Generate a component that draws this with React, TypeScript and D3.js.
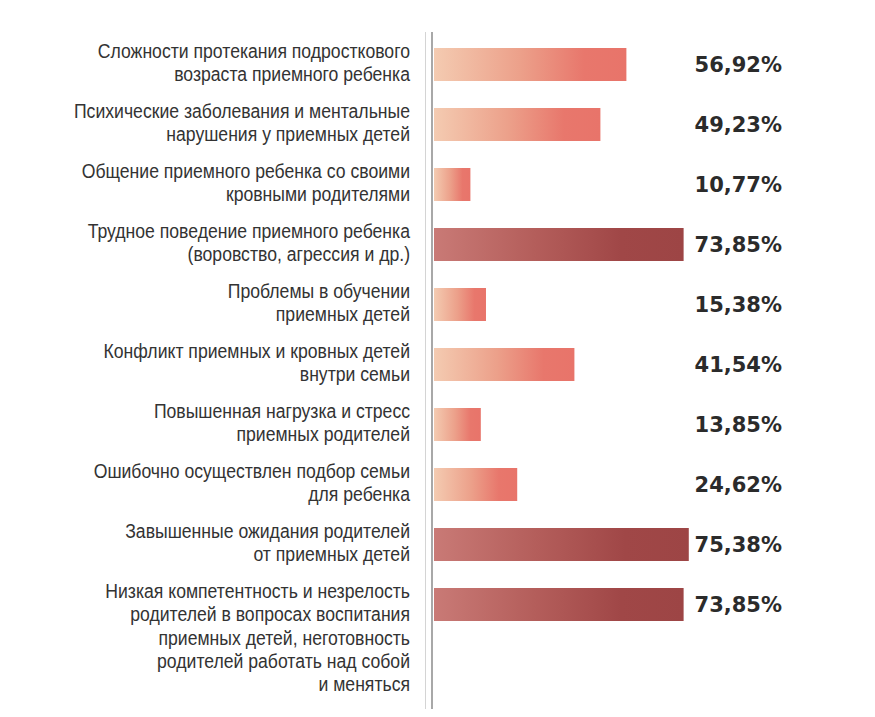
import * as d3 from "d3";

// categories (line breaks as in the original)
const categories = [
  "Сложности протекания подросткового\nвозраста приемного ребенка",
  "Психические заболевания и ментальные\nнарушения у приемных детей",
  "Общение приемного ребенка со своими\nкровными родителями",
  "Трудное поведение приемного ребенка\n(воровство, агрессия и др.)",
  "Проблемы в обучении\nприемных детей",
  "Конфликт приемных и кровных детей\nвнутри семьи",
  "Повышенная нагрузка и стресс\nприемных родителей",
  "Ошибочно осуществлен подбор семьи\nдля ребенка",
  "Завышенные ожидания родителей\nот приемных детей",
  "Низкая компетентность и незрелость\nродителей в вопросах воспитания\nприемных детей, неготовность\nродителей работать над собой\nи меняться",
];

// share of respondents, %
const values = [56.92, 49.23, 10.77, 73.85, 15.38, 41.54, 13.85, 24.62, 75.38, 73.85];

const width = 875;
const height = 717;
const highlightFrom = 70;
const labelRight = 410;
const narrow = 0.89; // fake "Arial Narrow"

const ruFormat = d3.formatLocale({
  decimal: ",",
  thousands: " ",
  grouping: [3],
  currency: ["", " ₽"],
});
const fmt = ruFormat.format(".2f");

const App = () => {
  const x = d3.scaleLinear().domain([0, 100]).range([434, 772]);
  const y = d3
    .scaleBand()
    .domain(categories)
    .range([34.5, 634.5])
    .paddingInner(0.45)
    .paddingOuter(0.225);

  const data = categories.map((c, i) => ({ category: c, value: values[i] }));

  return (
    <svg
      width={width}
      height={height}
      style={{ position: "absolute", left: 0, top: 0, background: "#fff" }}
    >
      <defs>
        <linearGradient id="gradLight" x1="0" x2="1" y1="0" y2="0">
          <stop offset="0" stopColor="#f4cbb1" />
          <stop offset="0.45" stopColor="#eca08a" />
          <stop offset="0.78" stopColor="#e8776c" />
          <stop offset="1" stopColor="#e8746a" />
        </linearGradient>
        <linearGradient id="gradDark" x1="0" x2="1" y1="0" y2="0">
          <stop offset="0" stopColor="#c97a76" />
          <stop offset="0.4" stopColor="#b45e5b" />
          <stop offset="0.75" stopColor="#a04747" />
          <stop offset="1" stopColor="#9d4545" />
        </linearGradient>
      </defs>

      {/* axis lines */}
      <line x1={425.5} x2={425.5} y1={32} y2={709} stroke="#d4d4d4" strokeWidth={1} />
      <line x1={432} x2={432} y1={32} y2={709} stroke="#a8a8a8" strokeWidth={2} />

      {data.map((d) => {
        const cy = (y(d.category) as number) + y.bandwidth() / 2;
        const lines = d.category.split("\n");
        return (
          <g key={d.category}>
            <rect
              x={x(0)}
              y={y(d.category)}
              width={x(d.value) - x(0)}
              height={y.bandwidth()}
              fill={d.value > highlightFrom ? "url(#gradDark)" : "url(#gradLight)"}
            />
            <g transform={`translate(${labelRight},0) scale(${narrow},1)`}>
              <text
                textAnchor="end"
                fontFamily="'Liberation Sans', Arial, sans-serif"
                fontSize={19.8}
                fill="#333"
              >
                {lines.map((l, j) => (
                  <tspan key={j} x={0} y={cy - 6.5 + j * 23.3}>
                    {l}
                  </tspan>
                ))}
              </text>
            </g>
            <text
              x={782}
              y={cy + 7.5}
              textAnchor="end"
              fontFamily="'DejaVu Sans', sans-serif"
              fontWeight="bold"
              fontSize={21}
              fill="#2b2b2b"
            >
              {fmt(d.value)}%
            </text>
          </g>
        );
      })}
    </svg>
  );
};

export default App;
